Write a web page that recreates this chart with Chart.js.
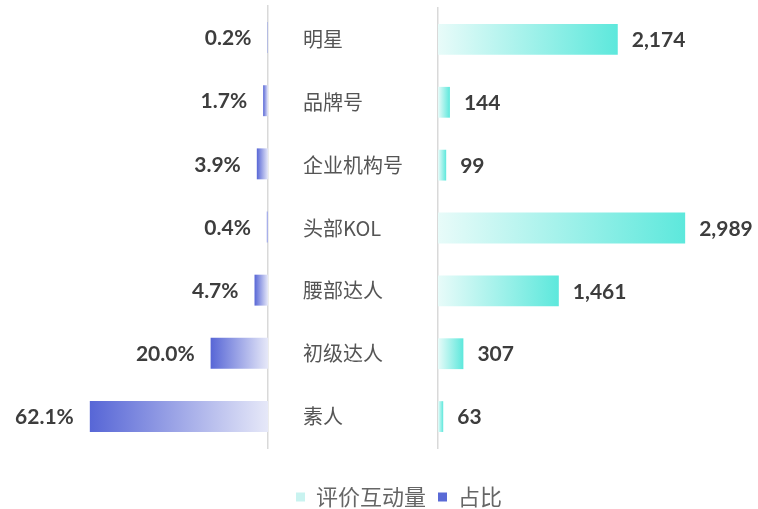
<!DOCTYPE html>
<html>
<head>
<meta charset="utf-8">
<script src="https://cdn.jsdelivr.net/npm/chart.js@4.4.0/dist/chart.umd.min.js"></script>
<style>
  html, body { margin: 0; padding: 0; background: #fff; overflow: hidden; width: 758px; height: 509px; }
  #leftWrap { position: absolute; left: 0; top: 0; width: 798px; height: 509px; }
  #rightWrap { position: absolute; left: 290px; top: 0; width: 468px; height: 509px; }
</style>
</head>
<body>
<div id="leftWrap"><canvas id="leftChart"></canvas></div>
<div id="rightWrap"><canvas id="rightChart"></canvas></div>
<script>
// ==============================
// Data
// ==============================
const categories = ["明星", "品牌号", "企业机构号", "头部KOL", "腰部达人", "初级达人", "素人"];
const interactionValues = [2174, 144, 99, 2989, 1461, 307, 63];   // 评价互动量
const shareValues = [0.2, 1.7, 3.9, 0.4, 4.7, 20.0, 62.1];         // 占比 (%)
const seriesNames = ["评价互动量", "占比"];
const legendColors = ["#c9f3f0", "#5a6ad6"];

const cjkFont = "'Noto Sans CJK SC', 'Noto Sans', sans-serif";
const numFont = "bold 21px Lato, 'Noto Sans', sans-serif";
const axisGray = "#d9d9d9";

// ==============================
// Gradients per bar
// ==============================
function leftGradient(context) {
  const chart = context.chart;
  if (!chart.chartArea) return "#5a6ad6";
  const scale = chart.scales.x;
  const start = scale.getPixelForValue(context.raw);
  const end = scale.getPixelForValue(0);
  if (end - start < 1) return "#9aa6e8";
  const g = chart.ctx.createLinearGradient(start, 0, end, 0);
  g.addColorStop(0, "#5766d6");
  g.addColorStop(1, "#e6e8f8");
  return g;
}

function rightGradient(context) {
  const chart = context.chart;
  if (!chart.chartArea) return "#5de8dc";
  const scale = chart.scales.x;
  const start = scale.getPixelForValue(0);
  const end = scale.getPixelForValue(context.raw);
  if (end - start < 1) return "#5de8dc";
  const g = chart.ctx.createLinearGradient(start, 0, end, 0);
  g.addColorStop(0, "#e8fbf9");
  g.addColorStop(1, "#5de8dc");
  return g;
}

// ==============================
// Value labels next to bars
// ==============================
function makeValueLabels(side, format) {
  return {
    id: "valueLabels_" + side,
    afterDatasetsDraw(chart) {
      const ctx = chart.ctx;
      const meta = chart.getDatasetMeta(0);
      const values = chart.data.datasets[0].data;
      ctx.save();
      ctx.font = numFont;
      ctx.fillStyle = "#3d3d3d";
      ctx.textBaseline = "middle";
      ctx.textAlign = side === "left" ? "right" : "left";
      meta.data.forEach((bar, i) => {
        const x = side === "left" ? bar.x - 16 : bar.x + 14;
        ctx.fillText(format(values[i]), x, bar.y + 1);
      });
      ctx.restore();
    }
  };
}

// ==============================
// Left chart: 占比
// ==============================
new Chart(document.getElementById("leftChart"), {
  type: "bar",
  data: {
    labels: categories,
    datasets: [{
      label: seriesNames[1],
      data: shareValues,
      backgroundColor: leftGradient,
      categoryPercentage: 1,
      barPercentage: 0.49
    }]
  },
  options: {
    indexAxis: "y",
    responsive: true,
    maintainAspectRatio: false,
    animation: false,
    layout: { padding: { top: 6, bottom: -9, left: 0, right: 0 } },
    scales: {
      x: {
        reverse: true, min: 0, max: 93.4,
        ticks: { display: false },
        grid: { display: false },
        border: { display: false },
        afterFit: s => { s.height = 26; }
      },
      y: {
        position: "right",
        ticks: { display: false },
        grid: { drawOnChartArea: false, drawTicks: false },
        border: { display: true, color: axisGray, width: 1.5 },
        afterFit: s => { s.width = 530; }
      }
    },
    plugins: {
      tooltip: { enabled: false },
      legend: {
        position: "bottom",
        onClick: () => {},
        labels: {
          boxWidth: 9, boxHeight: 9, padding: 12, color: "#666",
          font: { family: cjkFont, size: 22 },
          generateLabels: () => seriesNames.map((name, i) => ({
            text: name, fillStyle: legendColors[i], strokeStyle: legendColors[i],
            lineWidth: 0, hidden: false, datasetIndex: 0, fontColor: "#666"
          }))
        }
      }
    }
  },
  plugins: [makeValueLabels("left", v => v.toFixed(1) + "%")]
});

// ==============================
// Right chart: 评价互动量
// ==============================
new Chart(document.getElementById("rightChart"), {
  type: "bar",
  data: {
    labels: categories,
    datasets: [{
      label: seriesNames[0],
      data: interactionValues,
      backgroundColor: rightGradient,
      categoryPercentage: 1,
      barPercentage: 0.49
    }]
  },
  options: {
    indexAxis: "y",
    responsive: true,
    maintainAspectRatio: false,
    animation: false,
    layout: { padding: { top: 6, bottom: 61, left: 13, right: 0 } },
    scales: {
      x: { display: false, min: 0, max: 3870 },
      y: {
        position: "left",
        ticks: { crossAlign: "far", color: "#555", font: { family: cjkFont, size: 20, lineHeight: 0.5 } },
        grid: { drawOnChartArea: false, drawTicks: false },
        border: { display: true, color: axisGray, width: 1.5 },
        afterFit: s => { s.width = 135; }
      }
    },
    plugins: {
      tooltip: { enabled: false },
      legend: { display: false }
    }
  },
  plugins: [makeValueLabels("right", v => v.toLocaleString("en-US"))]
});
</script>
</body>
</html>
